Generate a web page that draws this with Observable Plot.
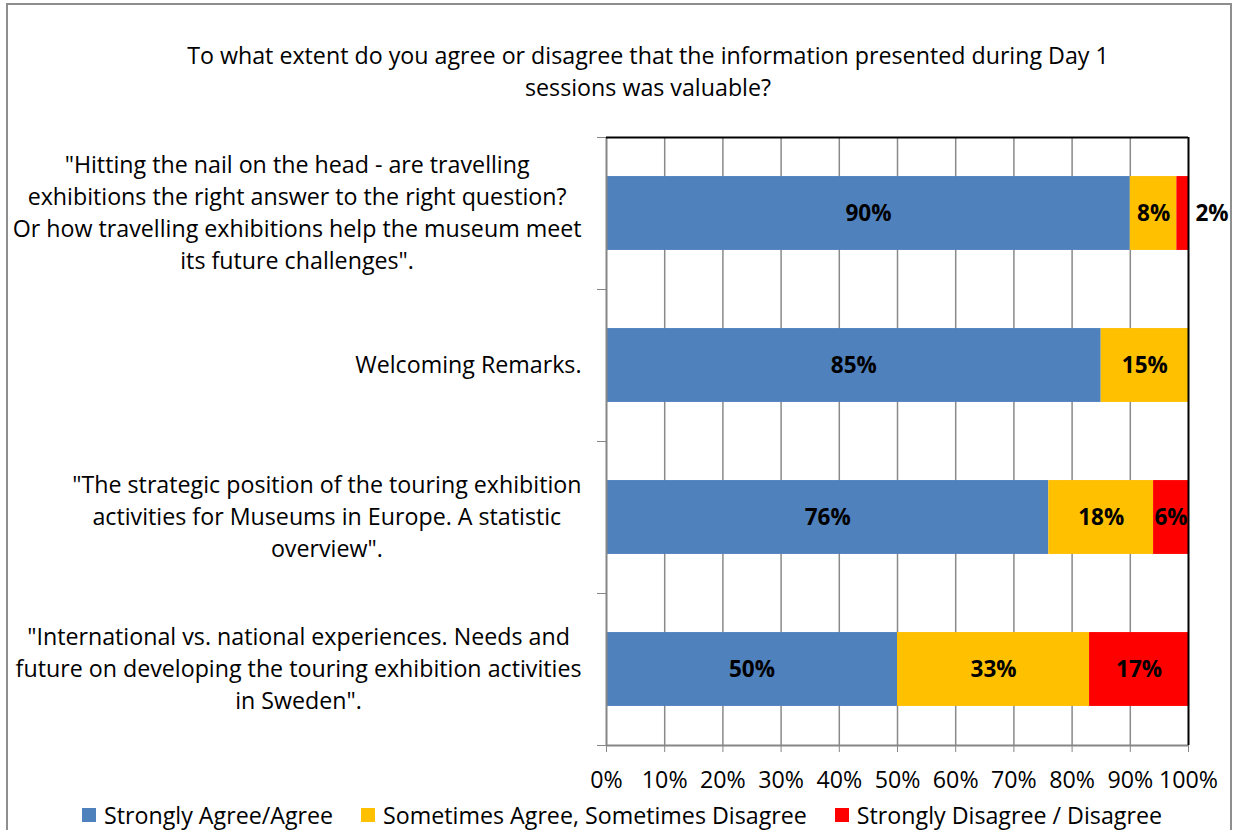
<!DOCTYPE html>
<html><head><meta charset="utf-8">
<script src="https://cdn.jsdelivr.net/npm/d3@7"></script>
<script src="https://cdn.jsdelivr.net/npm/@observablehq/plot@0.6"></script>
<style>
html,body{margin:0;padding:0;background:#fff;overflow:hidden;}
#wrap{position:relative;width:1233px;height:830px;overflow:hidden;color:#000;}
#frame{position:absolute;left:6px;top:3px;width:1226px;height:900px;border:2px solid #8e8e8e;box-sizing:border-box;}
#title{position:absolute;left:148px;width:1000px;top:39px;text-align:center;line-height:32px;}
#chart{position:absolute;left:0;top:110px;}
#legend{position:absolute;top:799px;left:0;width:1244px;display:flex;justify-content:center;align-items:center;gap:28px;white-space:nowrap;line-height:32px;}
#legend .item{display:flex;align-items:center;gap:8px;}
#legend .sw{width:14px;height:14px;display:inline-block;}
</style>
</head><body>
<div id="wrap">
  <div id="frame"></div>
  <div id="title"></div>
  <div id="chart"></div>
  <div id="legend"></div>
</div>
<script>
const titleLines = ["To what extent do you agree or disagree that the information presented during Day 1", "sessions was valuable?"];
const categories = [
  '"Hitting the nail on the head - are travelling\nexhibitions the right answer to the right question?\nOr how travelling exhibitions help the museum meet\nits future challenges".',
  'Welcoming Remarks.',
  '"The strategic position of the touring exhibition\nactivities for Museums in Europe. A statistic\noverview".',
  '"International vs. national experiences. Needs and\nfuture on developing the touring exhibition activities\nin Sweden".'
];
const seriesNames = ["Strongly Agree/Agree", "Sometimes Agree, Sometimes Disagree", "Strongly Disagree / Disagree"];
const seriesColors = ["#4F81BD", "#FFC000", "#FF0000"];
const agree = [90, 85, 76, 50];
const sometimes = [8, 15, 18, 33];
const disagree = [2, 0, 6, 17];
const xTicks = [0, 10, 20, 30, 40, 50, 60, 70, 80, 90, 100];

const FONT = "'Open Sans', 'Noto Sans', sans-serif";
const ctx = document.createElement("canvas").getContext("2d");
function measure(t, size, weight) { ctx.font = (weight || "normal") + " " + size + "px " + FONT; return ctx.measureText(t).width; }
// scale font so the widest label line matches the reference width
const k = 569 / measure("Or how travelling exhibitions help the museum meet", 20);
const fs = Math.max(17, Math.min(25, 20 * k));

// title
const title = document.getElementById("title");
title.style.fontFamily = FONT; title.style.fontSize = fs + "px";
title.innerHTML = titleLines.join("<br>");

// segments
const series = [agree, sometimes, disagree];
const segs = [];
categories.forEach((c, i) => {
  let acc = 0;
  series.forEach((s, j) => {
    const v = s[i];
    if (v > 0) segs.push({i, j, v, x1: acc, x2: acc + v, y1: i + 0.257, y2: i + 0.743, fill: seriesColors[j], label: v + "%"});
    acc += v;
  });
});
const inside = segs.filter(d => d.v >= 5);
const outside = segs.filter(d => d.v < 5);

const catMarks = categories.map((c, i) => {
  const w = Math.max(...c.split("\n").map(l => measure(l, fs)));
  return Plot.text([{i, c}], {x: () => 0, y: d => d.i + 0.5, text: "c", textAnchor: "middle", lineAnchor: "middle", lineHeight: 32 / fs, dx: -(25 + w / 2), dy: -3, fill: "#000", fontSize: fs});
});

const chart = Plot.plot({
  width: 1233, height: 687,
  marginLeft: 606, marginRight: 45, marginTop: 27, marginBottom: 52,
  x: {domain: [0, 100]},
  y: {domain: [0, 4], reverse: true},
  style: {fontFamily: FONT, fontSize: fs + "px", color: "#000", background: "transparent", overflow: "visible"},
  marks: [
    Plot.ruleX(xTicks.filter(t => t > 0 && t < 100), {stroke: "#8a8a8a", strokeWidth: 1.5}),
    Plot.rect(segs, {x1: "x1", x2: "x2", y1: "y1", y2: "y2", fill: "fill"}),
    Plot.ruleX([0], {stroke: "#868686", strokeWidth: 2}),
    Plot.ruleY([4], {stroke: "#868686", strokeWidth: 2}),
    Plot.ruleX([100], {stroke: "#000", strokeWidth: 2}),
    Plot.ruleY([0], {stroke: "#000", strokeWidth: 2}),
    Plot.axisX({ticks: xTicks, tickFormat: d => d + "%", tickSize: 7, tickPadding: 19, stroke: "#868686", label: null, fontSize: fs}),
    Plot.axisY({ticks: [0, 1, 2, 3, 4], tickSize: 9, tickFormat: () => "", stroke: "#868686", label: null}),
    Plot.text(inside, {x: d => (d.x1 + d.x2) / 2, y: d => d.i + 0.5, text: "label", fontWeight: "bold", fill: "#000", fontSize: fs * 0.97}),
    Plot.text(outside, {x: "x2", y: d => d.i + 0.5, text: "label", textAnchor: "start", dx: 7, fontWeight: "bold", fill: "#000", fontSize: fs * 0.97}),
    ...catMarks
  ]
});
document.getElementById("chart").appendChild(chart);

// legend
const legend = document.getElementById("legend");
legend.style.fontFamily = FONT; legend.style.fontSize = fs + "px";
seriesNames.forEach((n, j) => {
  const it = document.createElement("div"); it.className = "item";
  const sw = document.createElement("span"); sw.className = "sw"; sw.style.background = seriesColors[j];
  const tx = document.createElement("span"); tx.textContent = n;
  it.appendChild(sw); it.appendChild(tx); legend.appendChild(it);
});
</script>
</body></html>
